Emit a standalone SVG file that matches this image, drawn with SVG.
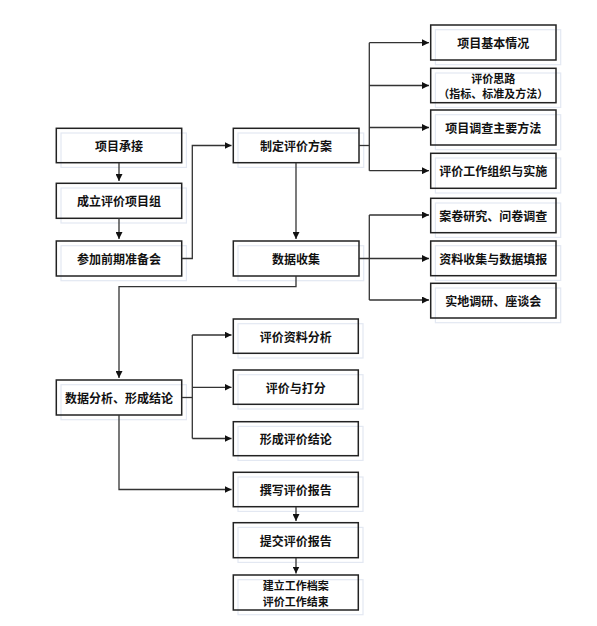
<svg xmlns="http://www.w3.org/2000/svg" width="597" height="626" viewBox="0 0 597 626">
<style>
.sh{fill:none;stroke:#e3e8f2;stroke-width:1.2}
.bx{fill:none;stroke:#222;stroke-width:1.5}
.t{font-family:"Noto Sans CJK SC","Liberation Serif",serif;font-size:12px;font-weight:bold;fill:#111;text-anchor:middle;dominant-baseline:central}
.s{font-size:11px}
.c{fill:none;stroke:#333;stroke-width:1.3}
</style>
<defs>
<marker id="a" viewBox="0 0 10 10" refX="10" refY="5" markerWidth="7" markerHeight="7" markerUnits="userSpaceOnUse" orient="auto">
<path d="M0,0L10,5L0,10z" fill="#111"/>
</marker>
</defs>
<rect width="597" height="626" fill="#fff"/>
<g id="n1"><rect class="sh" x="61" y="133" width="125.4" height="34.4"/><rect class="bx" x="56.3" y="128.3" width="125.4" height="34.4"/><text class="t" x="119" y="145.5">项目承接</text></g>
<g id="n2"><rect class="sh" x="61" y="188" width="125.4" height="35"/><rect class="bx" x="56.3" y="183.3" width="125.4" height="35"/><text class="t" x="119" y="200.8">成立评价项目组</text></g>
<g id="n3"><rect class="sh" x="61" y="245.7" width="125.4" height="35"/><rect class="bx" x="56.3" y="241" width="125.4" height="35"/><text class="t" x="119" y="258.5">参加前期准备会</text></g>
<g id="n4"><rect class="sh" x="238" y="133" width="125.7" height="34.4"/><rect class="bx" x="233.3" y="128.3" width="125.7" height="34.4"/><text class="t" x="296" y="145.5">制定评价方案</text></g>
<g id="n5"><rect class="sh" x="238" y="245.7" width="125.7" height="35"/><rect class="bx" x="233.3" y="241" width="125.7" height="35"/><text class="t" x="296" y="258.5">数据收集</text></g>
<g id="n6"><rect class="sh" x="435.4" y="29.7" width="125.3" height="35"/><rect class="bx" x="430.7" y="25" width="125.3" height="35"/><text class="t" x="493.3" y="42.5">项目基本情况</text></g>
<g id="n7"><rect class="sh" x="435.4" y="73" width="125.3" height="34.4"/><rect class="bx" x="430.7" y="68.3" width="125.3" height="34.4"/><text class="t s" x="493.3" y="77.5">评价思路</text><text class="t s" x="493.3" y="93">（指标、标准及方法）</text></g>
<g id="n8"><rect class="sh" x="435.4" y="114.7" width="125.3" height="35"/><rect class="bx" x="430.7" y="110" width="125.3" height="35"/><text class="t" x="493.3" y="127.5">项目调查主要方法</text></g>
<g id="n9"><rect class="sh" x="435.4" y="158" width="125.3" height="35"/><rect class="bx" x="430.7" y="153.3" width="125.3" height="35"/><text class="t" x="493.3" y="170.8">评价工作组织与实施</text></g>
<g id="n10"><rect class="sh" x="435.4" y="203" width="125.3" height="34.4"/><rect class="bx" x="430.7" y="198.3" width="125.3" height="34.4"/><text class="t" x="493.3" y="215.5">案卷研究、问卷调查</text></g>
<g id="n11"><rect class="sh" x="435.4" y="245.7" width="125.3" height="34.7"/><rect class="bx" x="430.7" y="241" width="125.3" height="34.7"/><text class="t" x="493.3" y="258.4">资料收集与数据填报</text></g>
<g id="n12"><rect class="sh" x="435.4" y="288" width="125.3" height="34.7"/><rect class="bx" x="430.7" y="283.3" width="125.3" height="34.7"/><text class="t" x="493.3" y="300.6">实地调研、座谈会</text></g>
<g id="n13"><rect class="sh" x="61" y="384.7" width="125.4" height="35"/><rect class="bx" x="56.3" y="380" width="125.4" height="35"/><text class="t" x="119" y="397.5">数据分析、形成结论</text></g>
<g id="n14"><rect class="sh" x="238" y="323.7" width="125" height="34.3"/><rect class="bx" x="233.3" y="319" width="125" height="34.3"/><text class="t" x="295.8" y="336.2">评价资料分析</text></g>
<g id="n15"><rect class="sh" x="238" y="374.7" width="125" height="34.3"/><rect class="bx" x="233.3" y="370" width="125" height="34.3"/><text class="t" x="295.8" y="387.2">评价与打分</text></g>
<g id="n16"><rect class="sh" x="238" y="426.4" width="125" height="34"/><rect class="bx" x="233.3" y="421.7" width="125" height="34"/><text class="t" x="295.8" y="438.7">形成评价结论</text></g>
<g id="n17"><rect class="sh" x="238" y="477" width="125" height="34.4"/><rect class="bx" x="233.3" y="472.3" width="125" height="34.4"/><text class="t" x="295.8" y="489.5">撰写评价报告</text></g>
<g id="n18"><rect class="sh" x="238" y="527.4" width="125" height="35"/><rect class="bx" x="233.3" y="522.7" width="125" height="35"/><text class="t" x="295.8" y="540.2">提交评价报告</text></g>
<g id="n19"><rect class="sh" x="238" y="579.7" width="125" height="35"/><rect class="bx" x="233.3" y="575" width="125" height="35"/><text class="t s" x="295.8" y="584.5">建立工作档案</text><text class="t s" x="295.8" y="600.5">评价工作结束</text></g>
<g id="connectors">
<path class="c" d="M119,163V181" marker-end="url(#a)"/>
<path class="c" d="M119,218V239" marker-end="url(#a)"/>
<path class="c" d="M182,258.5H192.3V145.5H231.5" marker-end="url(#a)"/>
<path class="c" d="M296,163V239" marker-end="url(#a)"/>
<path class="c" d="M359,145.5H369.3"/>
<path class="c" d="M369.3,42.7V170.7"/>
<path class="c" d="M369.3,42.7H429" marker-end="url(#a)"/>
<path class="c" d="M369.3,85.5H429" marker-end="url(#a)"/>
<path class="c" d="M369.3,127.5H429" marker-end="url(#a)"/>
<path class="c" d="M369.3,170.7H429" marker-end="url(#a)"/>
<path class="c" d="M359,258.5H429" marker-end="url(#a)"/>
<path class="c" d="M369.3,215V300"/>
<path class="c" d="M369.3,215H429" marker-end="url(#a)"/>
<path class="c" d="M369.3,300H429" marker-end="url(#a)"/>
<path class="c" d="M296,276V286.7H119V378" marker-end="url(#a)"/>
<path class="c" d="M182,397.5H192.3"/>
<path class="c" d="M192.3,335V438.5"/>
<path class="c" d="M192.3,335H231.5" marker-end="url(#a)"/>
<path class="c" d="M192.3,387.3H231.5" marker-end="url(#a)"/>
<path class="c" d="M192.3,438.5H231.5" marker-end="url(#a)"/>
<path class="c" d="M119,415V489.5H231.5" marker-end="url(#a)"/>
<path class="c" d="M296,507V521" marker-end="url(#a)"/>
<path class="c" d="M296,558V573.5" marker-end="url(#a)"/>
</g>
</svg>
